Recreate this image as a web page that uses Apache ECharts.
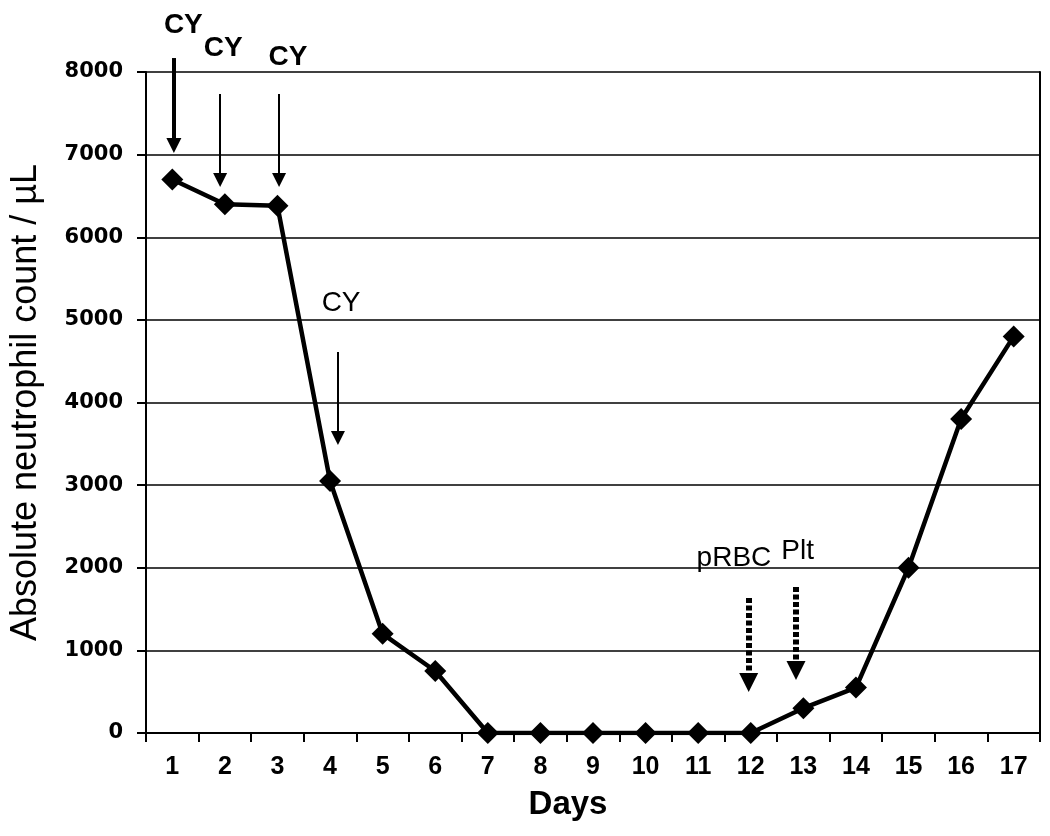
<!DOCTYPE html>
<html>
<head>
<meta charset="utf-8">
<script src="https://cdn.jsdelivr.net/npm/echarts@6/dist/echarts.min.js"></script>
<style>
html,body{margin:0;padding:0;background:#fff;}
#chart{width:1050px;height:836px;}
</style>
</head>
<body>
<div id="chart"></div>
<script>
// ---- data ----
const days = ['1','2','3','4','5','6','7','8','9','10','11','12','13','14','15','16','17'];
const dayNumbers = [1,2,3,4,5,6,7,8,9,10,11,12,13,14,15,16,17];
const anc = [6700, 6400, 6380, 3050, 1200, 750, 0, 0, 0, 0, 0, 0, 300, 550, 2000, 3800, 4800];
const yTicks = [0, 1000, 2000, 3000, 4000, 5000, 6000, 7000, 8000];

// annotation arrows: [day, fromValue, toValue (centre of arrow head)]
const cyArrowBold = [[1.03, 8169, 7110]];
const cyArrows = [[1.91, 7734, 6693], [3.03, 7734, 6693], [4.15, 4611, 3571]];
const transfusionArrows = [[11.96, 1634, 611], [12.86, 1767, 756]];
// annotation labels: [day, value, text]
const boldLabels = [[1.21, 8569, 'CY'], [1.97, 8290, 'CY'], [3.20, 8182, 'CY']];
const plainLabels = [[4.21, 5204, 'CY'], [11.68, 2118, 'pRBC'], [12.89, 2203, 'Plt']];

const toLines = arr => arr.map(a => ({coords: [[a[0], a[1]], [a[0], a[2]]]}));
const toLabels = arr => arr.map(a => ({value: [a[0], a[1]], name: a[2]}));

const arrowSeries = (data, width, head, dash) => ({
  type: 'lines',
  coordinateSystem: 'cartesian2d',
  xAxisIndex: 1,
  yAxisIndex: 0,
  clip: false,
  silent: true,
  symbol: ['none', 'triangle'],
  symbolSize: head,
  lineStyle: Object.assign({color: '#000', width: width, curveness: 0, opacity: 1}, dash ? {type: dash, cap: 'butt'} : {}),
  itemStyle: {color: '#000', opacity: 1},
  data: data,
  z: 6
});

const chart = echarts.init(document.getElementById('chart'));
const option = {
  backgroundColor: '#fff',
  animation: false,
  grid: {left: 145, right: 10, top: 72, bottom: 103, containLabel: false},
  xAxis: [{
    type: 'category',
    data: days,
    boundaryGap: true,
    name: 'Days',
    nameLocation: 'middle',
    nameGap: 55,
    nameTextStyle: {fontFamily: 'Liberation Sans', fontWeight: 'bold', fontSize: 33, color: '#000', padding: [0, 50, 0, 0]},
    axisLine: {lineStyle: {color: '#000', width: 2}},
    axisTick: {show: true, alignWithLabel: false, interval: 0, length: 9, lineStyle: {color: '#000', width: 2}},
    axisLabel: {interval: 0, margin: 22, fontFamily: 'Liberation Sans', fontWeight: 'bold', fontSize: 25, color: '#000'},
    splitLine: {show: false}
  }, {
    type: 'value',
    min: 0.5,
    max: 17.5,
    show: false
  }],
  yAxis: [{
    type: 'value',
    min: yTicks[0],
    max: yTicks[yTicks.length - 1],
    interval: 1000,
    name: 'Absolute neutrophil count / \u00b5L',
    nameLocation: 'middle',
    nameGap: 102,
    nameTextStyle: {fontFamily: 'Liberation Sans', fontSize: 36, color: '#000'},
    axisLine: {show: true, lineStyle: {color: '#000', width: 2}},
    axisTick: {show: true, length: 9, lineStyle: {color: '#000', width: 2}},
    axisLabel: {margin: 23, fontFamily: 'DejaVu Sans', fontWeight: 'bold', fontSize: 21, color: '#000', formatter: v => String(v)},
    splitLine: {show: true, lineStyle: {color: '#000', width: 1.5}}
  }, {
    type: 'value',
    position: 'right',
    min: yTicks[0],
    max: yTicks[yTicks.length - 1],
    interval: 1000,
    axisLine: {show: true, lineStyle: {color: '#000', width: 2}},
    axisTick: {show: false},
    axisLabel: {show: false},
    splitLine: {show: false}
  }],
  series: [{
    type: 'line',
    xAxisIndex: 1,
    yAxisIndex: 0,
    data: dayNumbers.map((d, i) => [d, anc[i]]),
    symbol: 'diamond',
    symbolSize: 22,
    lineStyle: {color: '#000', width: 4.5},
    itemStyle: {color: '#000', opacity: 1},
    z: 5
  },
  arrowSeries(toLines(cyArrowBold), 4, [13, 15]),
  arrowSeries(toLines(cyArrows), 2, [12, 14]),
  arrowSeries(toLines(transfusionArrows), 6, [18, 19], [5, 2.5]),
  {
    type: 'scatter',
    xAxisIndex: 1,
    yAxisIndex: 0,
    clip: false,
    symbolSize: 0,
    silent: true,
    itemStyle: {color: '#000', opacity: 1},
    data: toLabels(boldLabels),
    label: {show: true, position: 'inside', formatter: p => p.name, fontFamily: 'Liberation Sans', fontWeight: 'bold', fontSize: 28, color: '#000', opacity: 1},
    z: 7
  }, {
    type: 'scatter',
    xAxisIndex: 1,
    yAxisIndex: 0,
    clip: false,
    symbolSize: 0,
    silent: true,
    itemStyle: {color: '#000', opacity: 1},
    data: toLabels(plainLabels),
    label: {show: true, position: 'inside', formatter: p => p.name, fontFamily: 'Liberation Sans', fontSize: 28, color: '#000', opacity: 1},
    z: 7
  }]
};
chart.setOption(option);
</script>
</body>
</html>
